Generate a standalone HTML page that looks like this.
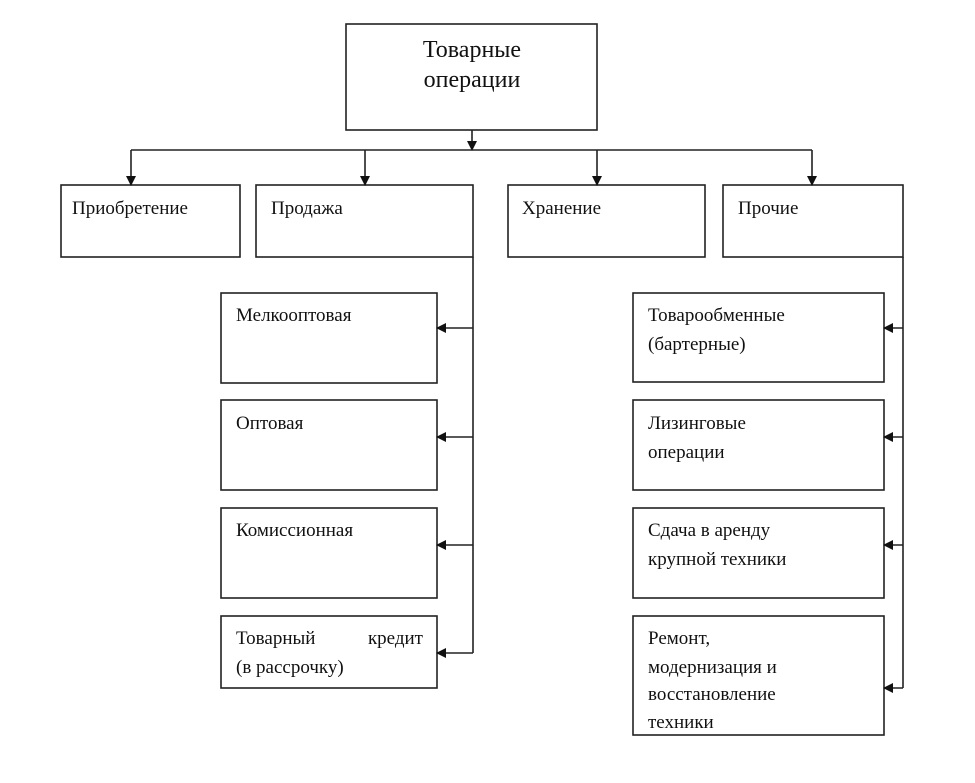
<!DOCTYPE html>
<html><head><meta charset="utf-8"><style>
html,body{margin:0;padding:0;background:#fff;}
svg text{font-family:"Liberation Serif",serif;fill:#111;}
</style></head><body>
<svg width="975" height="778" viewBox="0 0 975 778" xmlns="http://www.w3.org/2000/svg">
<defs>
<marker id="a" markerWidth="10" markerHeight="10" refX="9" refY="5" orient="auto" markerUnits="userSpaceOnUse">
<path d="M0,0 L10,5 L0,10 z" fill="#111"/></marker>
</defs>
<g fill="none" stroke="#222" stroke-width="1.6">
<rect x="346" y="24" width="251" height="106"/>
<rect x="61" y="185" width="179" height="72"/>
<rect x="256" y="185" width="217" height="72"/>
<rect x="508" y="185" width="197" height="72"/>
<rect x="723" y="185" width="180" height="72"/>
<rect x="221" y="293" width="216" height="90"/>
<rect x="221" y="400" width="216" height="90"/>
<rect x="221" y="508" width="216" height="90"/>
<rect x="221" y="616" width="216" height="72"/>
<rect x="633" y="293" width="251" height="89"/>
<rect x="633" y="400" width="251" height="90"/>
<rect x="633" y="508" width="251" height="90"/>
<rect x="633" y="616" width="251" height="119"/>
<line x1="472" y1="130" x2="472" y2="150" marker-end="url(#a)"/>
<line x1="131" y1="150" x2="812" y2="150"/>
<line x1="131" y1="150" x2="131" y2="185" marker-end="url(#a)"/>
<line x1="365" y1="150" x2="365" y2="185" marker-end="url(#a)"/>
<line x1="597" y1="150" x2="597" y2="185" marker-end="url(#a)"/>
<line x1="812" y1="150" x2="812" y2="185" marker-end="url(#a)"/>
<line x1="473" y1="257" x2="473" y2="653"/>
<line x1="473" y1="328" x2="437" y2="328" marker-end="url(#a)"/>
<line x1="473" y1="437" x2="437" y2="437" marker-end="url(#a)"/>
<line x1="473" y1="545" x2="437" y2="545" marker-end="url(#a)"/>
<line x1="473" y1="653" x2="437" y2="653" marker-end="url(#a)"/>
<line x1="903" y1="257" x2="903" y2="688"/>
<line x1="903" y1="328" x2="884" y2="328" marker-end="url(#a)"/>
<line x1="903" y1="437" x2="884" y2="437" marker-end="url(#a)"/>
<line x1="903" y1="545" x2="884" y2="545" marker-end="url(#a)"/>
<line x1="903" y1="688" x2="884" y2="688" marker-end="url(#a)"/>
</g>
<text x="472" y="57" font-size="24" text-anchor="middle">Товарные</text>
<text x="472" y="87" font-size="24" text-anchor="middle">операции</text>
<g font-size="19">
<text x="72" y="214">Приобретение</text>
<text x="271" y="214">Продажа</text>
<text x="522" y="214">Хранение</text>
<text x="738" y="214">Прочие</text>
<text x="236" y="321">Мелкооптовая</text>
<text x="236" y="429">Оптовая</text>
<text x="236" y="536">Комиссионная</text>
<text x="236" y="644">Товарный</text>
<text x="423" y="644" text-anchor="end">кредит</text>
<text x="236" y="673">(в рассрочку)</text>
<text x="648" y="321">Товарообменные</text>
<text x="648" y="350">(бартерные)</text>
<text x="648" y="429">Лизинговые</text>
<text x="648" y="458">операции</text>
<text x="648" y="536">Сдача в аренду</text>
<text x="648" y="565">крупной техники</text>
<text x="648" y="644">Ремонт,</text>
<text x="648" y="673">модернизация и</text>
<text x="648" y="700">восстановление</text>
<text x="648" y="728">техники</text>
</g>
</svg>
</body></html>
